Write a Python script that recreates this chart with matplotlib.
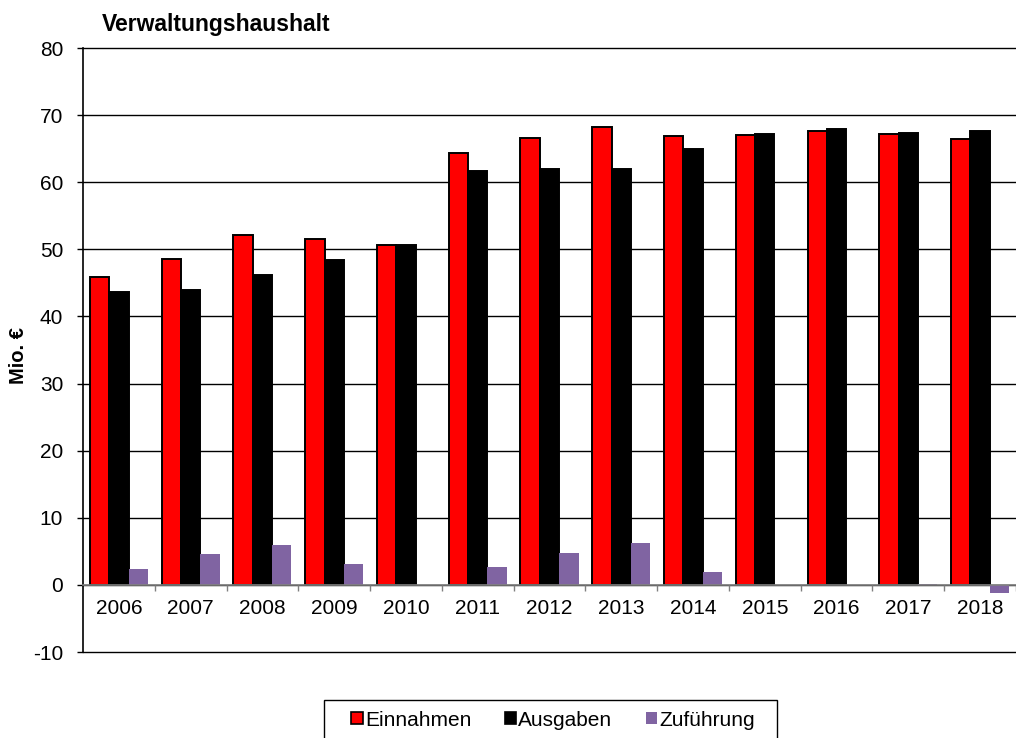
import matplotlib
matplotlib.use("Agg")
import matplotlib.pyplot as plt
from matplotlib.patches import Rectangle
import numpy as np

years = ["2006", "2007", "2008", "2009", "2010", "2011", "2012",
         "2013", "2014", "2015", "2016", "2017", "2018"]
einnahmen = [45.9, 48.5, 52.1, 51.5, 50.7, 64.4, 66.6, 68.2, 66.9, 67.1, 67.7, 67.2, 66.4]
ausgaben = [43.6, 44.0, 46.2, 48.4, 50.7, 61.7, 61.9, 62.0, 65.0, 67.2, 67.9, 67.4, 67.7]
zufuehrung = [2.3, 4.6, 6.0, 3.1, 0.0, 2.6, 4.7, 6.2, 1.9, 0.0, 0.0, 0.1, -1.2]
series_names = ["Einnahmen", "Ausgaben", "Zuführung"]
yticks = [-10, 0, 10, 20, 30, 40, 50, 60, 70, 80]

plt.rcParams['font.family'] = ['Liberation Sans', 'DejaVu Sans']

W, H = 1016, 738
fig = plt.figure(figsize=(W / 100, H / 100), dpi=100)
left, right, top, bottom = 83, 1016, 48, 652
ax = fig.add_axes([left / W, 1 - bottom / H, (right - left) / W, (bottom - top) / H])

x = np.arange(len(years))
bw = 0.27
ax.set_axisbelow(True)
b1 = ax.bar(x - bw, einnahmen, bw, color="#FF0000", edgecolor="black", linewidth=1.4, label=series_names[0])
b2 = ax.bar(x, ausgaben, bw, color="#000000", edgecolor="black", linewidth=1.4, label=series_names[1])
b3 = ax.bar(x + bw, zufuehrung, bw, color="#8064A2", edgecolor="none", linewidth=0, label=series_names[2])

ax.set_ylim(-10, 80)
cat_px = 72.1
ax.set_xlim(-0.5, -0.5 + (right - left) / cat_px)

ax.set_yticks(yticks)
ax.set_yticklabels([str(v) for v in yticks], fontsize=15)
for v in yticks:
    ax.axhline(v, color="black", lw=1.0, zorder=0.5, clip_on=False)

ax.spines['top'].set_visible(False)
ax.spines['right'].set_visible(False)
ax.spines['left'].set_color('black')
ax.spines['left'].set_linewidth(1.2)
ax.spines['bottom'].set_position(('data', 0))
ax.spines['bottom'].set_color('#808080')
ax.spines['bottom'].set_linewidth(1.2)
ax.spines['bottom'].set_zorder(3)

ax.set_xticks(x)
ax.set_xticklabels(years, fontsize=15)
ax.set_xticks(np.arange(len(years)) + 0.5, minor=True)
ax.tick_params(axis='x', which='major', length=0, pad=10)
ax.tick_params(axis='x', which='minor', length=4, direction='out', color='#808080', width=1)
ax.tick_params(axis='y', which='major', length=4.3, direction='out', color='black', width=1, pad=10)

fig.text(19 / W, 1 - 355 / H, "Mio. €", rotation=90, fontsize=14.5, fontweight='bold',
         ha='center', va='center')
fig.text(102 / W, 1 - 24 / H, "Verwaltungshaushalt", fontsize=16.5, fontweight='bold',
         ha='left', va='center')

leg = fig.legend(handles=[b1, b2, b3], labels=series_names, loc='center',
                 bbox_to_anchor=(553 / W, 1 - 720 / H), ncol=3, fontsize=15,
                 frameon=False, handlelength=0.55, handleheight=0.55, handletextpad=0.1,
                 columnspacing=1.6, borderpad=0, borderaxespad=0)
for h in leg.legend_handles:
    h.set_linewidth(1.2)

frame = Rectangle((324 / W, -0.01), (777 - 324) / W, 0.01 + (738 - 700) / H,
                  transform=fig.transFigure, fill=False, edgecolor='black', lw=1.0,
                  clip_on=False)
fig.patches.append(frame)

fig.savefig("out.png", dpi=100)
